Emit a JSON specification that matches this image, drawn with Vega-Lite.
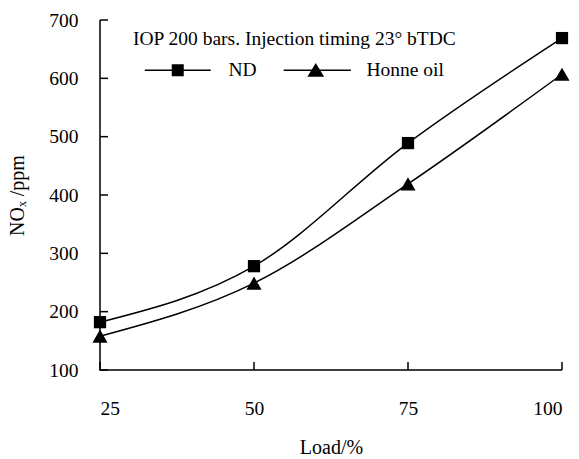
{
  "$schema": "https://vega.github.io/schema/vega-lite/v6.json",
  "autosize": {"type": "none"},
  "width": 462,
  "height": 350,
  "padding": {"left": 100, "top": 20, "right": 17, "bottom": 89},
  "background": "white",
  "config": {
    "view": {"stroke": null},
    "font": "Liberation Serif, Times New Roman, serif"
  },
  "title": {
    "text": "IOP 200 bars. Injection timing 23° bTDC",
    "anchor": "start",
    "frame": "group",
    "orient": "top",
    "offset": -48,
    "baseline": "middle",
    "dx": 33,
    "font": "Liberation Serif, Times New Roman, serif",
    "fontSize": 19.5,
    "fontWeight": "normal",
    "color": "black"
  },
  "datasets": {
    "nox": [
      {"load": 25, "nox": 182, "fuel": "ND"},
      {"load": 50, "nox": 278, "fuel": "ND"},
      {"load": 75, "nox": 489, "fuel": "ND"},
      {"load": 100, "nox": 669, "fuel": "ND"},
      {"load": 25, "nox": 158, "fuel": "Honne oil"},
      {"load": 50, "nox": 249, "fuel": "Honne oil"},
      {"load": 75, "nox": 419, "fuel": "Honne oil"},
      {"load": 100, "nox": 607, "fuel": "Honne oil"}
    ],
    "frame": [
      {"load": 25, "nox": 700, "i": 0},
      {"load": 25, "nox": 100, "i": 1},
      {"load": 100, "nox": 100, "i": 2}
    ],
    "yticks": [
      {"load": 25, "nox": 100},
      {"load": 25, "nox": 200},
      {"load": 25, "nox": 300},
      {"load": 25, "nox": 400},
      {"load": 25, "nox": 500},
      {"load": 25, "nox": 600},
      {"load": 25, "nox": 700}
    ],
    "xticks": [
      {"load": 25, "nox": 100},
      {"load": 50, "nox": 100},
      {"load": 75, "nox": 100},
      {"load": 100, "nox": 100}
    ]
  },
  "encoding": {
    "x": {
      "field": "load",
      "type": "quantitative",
      "scale": {"domain": [25, 100], "nice": false, "zero": false},
      "axis": {
        "values": [25, 50, 75, 100],
        "title": "Load/%",
        "grid": false,
        "domain": false,
        "ticks": false,
        "tickSize": 0,
        "labelPadding": 29,
        "labelFont": "Liberation Serif, Times New Roman, serif",
        "labelFontSize": 19.5,
        "labelColor": "black",
        "titleFont": "Liberation Serif, Times New Roman, serif",
        "titleFontSize": 20,
        "titleFontWeight": "normal",
        "titleColor": "black",
        "titlePadding": 20
      }
    },
    "y": {
      "field": "nox",
      "type": "quantitative",
      "scale": {"domain": [100, 700], "nice": false, "zero": false},
      "axis": {
        "values": [100, 200, 300, 400, 500, 600, 700],
        "title": "NOₓ /ppm",
        "grid": false,
        "domain": false,
        "ticks": false,
        "tickSize": 0,
        "labelPadding": 22,
        "labelFont": "Liberation Serif, Times New Roman, serif",
        "labelFontSize": 19.5,
        "labelColor": "black",
        "titleFont": "Liberation Serif, Times New Roman, serif",
        "titleFontSize": 20,
        "titleFontWeight": "normal",
        "titleColor": "black",
        "titlePadding": 21
      }
    }
  },
  "layer": [
    {
      "data": {"name": "frame"},
      "mark": {"type": "line", "interpolate": "linear", "color": "black", "strokeWidth": 1.5},
      "encoding": {"order": {"field": "i", "type": "quantitative"}}
    },
    {
      "data": {"name": "yticks"},
      "mark": {"type": "tick", "orient": "horizontal", "size": 8, "thickness": 1.5, "color": "black", "opacity": 1, "xOffset": 4}
    },
    {
      "data": {"name": "xticks"},
      "mark": {"type": "tick", "orient": "vertical", "size": 8, "thickness": 1.5, "color": "black", "opacity": 1, "yOffset": -4}
    },
    {
      "data": {"name": "nox"},
      "mark": {"type": "line", "interpolate": "monotone", "color": "black", "strokeWidth": 1.5},
      "encoding": {"detail": {"field": "fuel"}}
    },
    {
      "data": {"name": "nox"},
      "mark": {"type": "point", "filled": true, "color": "black", "opacity": 1},
      "encoding": {
        "shape": {
          "field": "fuel",
          "type": "nominal",
          "scale": {"domain": ["ND", "Honne oil"], "range": ["square", "triangle-up"]},
          "legend": null
        },
        "size": {
          "field": "fuel",
          "type": "nominal",
          "scale": {"domain": ["ND", "Honne oil"], "range": [150, 230]},
          "legend": null
        }
      }
    },
    {
      "data": {"name": "nox"},
      "mark": {"type": "point", "filled": true, "color": "black", "opacity": 0},
      "encoding": {
        "shape": {
          "field": "fuel",
          "type": "nominal",
          "scale": {
            "domain": ["ND", "Honne oil"],
            "range": ["M-5.5,-0.125H5.5V0.125H-5.5ZM-1,-1H1V1H-1Z", "M-5.35,-0.125H5.85V0.125H-5.35ZM0,-1.2L1.4,1.1H-1.4Z"]
          },
          "legend": {
            "title": null,
            "orient": "none",
            "legendX": 68,
            "legendY": 40,
            "direction": "horizontal",
            "padding": 0,
            "symbolSize": 144,
            "symbolOpacity": 1,
            "symbolFillColor": "black",
            "symbolStrokeWidth": 0,
            "labelFont": "Liberation Serif, Times New Roman, serif",
            "labelFontSize": 19.5,
            "labelColor": "black",
            "labelOffset": 41,
            "columnPadding": 26
          }
        }
      }
    }
  ],
  "resolve": {"scale": {"shape": "independent", "size": "independent"}}
}
